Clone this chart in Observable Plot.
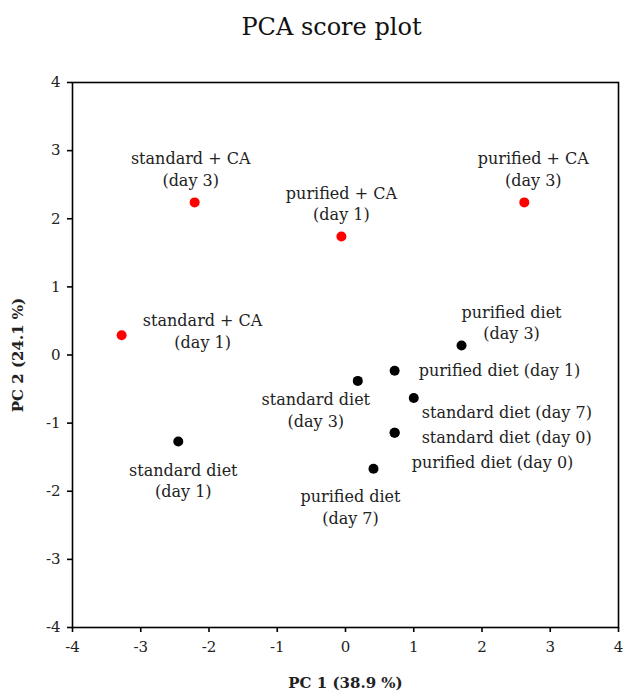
<!DOCTYPE html>
<html>
<head>
<meta charset="utf-8">
<script src="https://cdn.jsdelivr.net/npm/d3@7"></script>
<script src="https://cdn.jsdelivr.net/npm/@observablehq/plot@0.6"></script>
<style>
  body { margin: 0; background: #fff; }
  #title { font-family: "DejaVu Serif", serif; font-size: 24px; height: 48px; line-height: 1; padding-top: 15px; box-sizing: border-box; text-align: center; width: 625px; padding-left: 38px; color: #111; }
  svg { display: block; }
</style>
</head>
<body>
<div id="title">PCA score plot</div>
<div id="chart"></div>
<script>
// PCA scores for each diet group and sampling day
const groups = [
  "standard + CA\n(day 3)",
  "purified + CA\n(day 1)",
  "purified + CA\n(day 3)",
  "standard + CA\n(day 1)",
  "purified diet\n(day 3)",
  "purified diet (day 1)",
  "standard diet\n(day 3)",
  "standard diet (day 7)",
  "standard diet (day 0)",
  "purified diet (day 0)",
  "standard diet\n(day 1)",
  "purified diet\n(day 7)"
];
const pc1 = [-2.21, -0.06, 2.62, -3.28, 1.70, 0.72, 0.18, 1.00, 0.72, 0.72, -2.45, 0.41];
const pc2 = [2.24, 1.74, 2.24, 0.29, 0.14, -0.23, -0.38, -0.63, -1.14, -1.14, -1.27, -1.67];
const withCA = [true, true, true, true, false, false, false, false, false, false, false, false];
const ticks = [-4, -3, -2, -1, 0, 1, 2, 3, 4];

const rows = groups.map((g, i) => ({ label: g, pc1: pc1[i], pc2: pc2[i], ca: withCA[i] }));

// label placement around each point: [dx, dy, textAnchor]
const placement = [
  [-4, -34, "middle"],
  [0, -34, "middle"],
  [9, -34, "middle"],
  [81, -5, "middle"],
  [50, -24, "middle"],
  [24, -2, "start"],
  [-42, 28, "middle"],
  [8, 13, "start"],
  [27, 3, "start"],
  [17, 28, "start"],
  [5, 38, "middle"],
  [-23, 37, "middle"]
];

const font = "DejaVu Serif";

const labelMarks = rows.map((r, i) => Plot.text([r], {
  x: "pc1", y: "pc2", text: "label",
  dx: placement[i][0], dy: placement[i][1], textAnchor: placement[i][2],
  fontSize: 16, lineHeight: 1.37, fill: "#222", fontFamily: font
}));

const chart = Plot.plot({
  width: 625,
  height: 647,
  marginTop: 34,
  marginLeft: 72,
  marginRight: 7,
  marginBottom: 68,
  style: { fontFamily: font, fontSize: "15px", color: "#222", background: "#fff" },
  x: { domain: [-4, 4], ticks, tickSize: 5, tickFormat: d => String(d), label: "PC 1 (38.9 %)", labelAnchor: "center", labelOffset: 60, labelArrow: "none", tickPadding: 9 },
  y: { domain: [-4, 4], ticks, tickSize: 5, tickFormat: d => String(d), label: "PC 2 (24.1 %)", labelAnchor: "center", labelOffset: 60, labelArrow: "none", tickPadding: 7 },
  marks: [
    Plot.frame({ stroke: "#000", strokeWidth: 1.6 }),
    Plot.dot(rows, { x: "pc1", y: "pc2", r: 5, fill: d => d.ca ? "#ff0000" : "#000", stroke: "none" }),
    ...labelMarks
  ]
});

d3.select(chart).selectAll("g[aria-label='x-axis label'] text, g[aria-label='y-axis label'] text")
  .attr("font-weight", "bold").attr("font-size", "15px");
d3.select(chart).selectAll("g[aria-label='x-axis tick'], g[aria-label='y-axis tick']")
  .attr("stroke", "#000").attr("stroke-width", 1.6);

document.getElementById("chart").appendChild(chart);
</script>
</body>
</html>
